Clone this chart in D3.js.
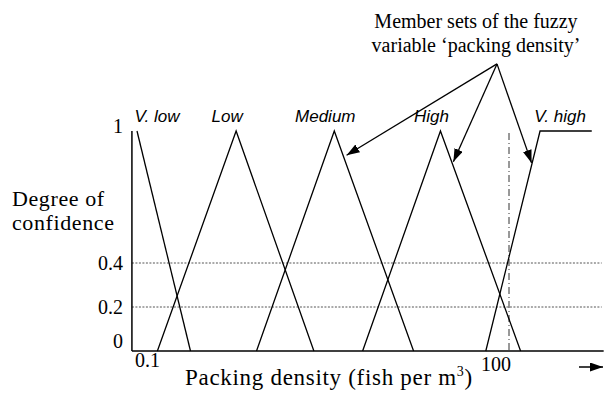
<!DOCTYPE html>
<html>
<head>
<meta charset="utf-8">
<script src="https://cdn.jsdelivr.net/npm/d3@7"></script>
<style>
  body { margin: 0; background: #fff; }
  svg { display: block; }
</style>
</head>
<body>
<div id="chart"></div>
<script>
// member sets of 'packing density': [density (fish per m3), degree of confidence]
var setNames = ["V. low", "Low", "Medium", "High", "V. high"];
var vLow   = [[0.1, 1], [0.27, 0]];
var low    = [[0.146, 0], [0.63, 1], [2.67, 0]];
var medium = [[0.92, 0], [3.9, 1], [17, 0]];
var high   = [[6.6, 0], [28, 1], [124, 0]];
var vHigh  = [[65, 0], [178, 1], [465, 1]];
var memberSets = [vLow, low, medium, high, vHigh];

var yTicks = [0, 0.2, 0.4, 1];
var yTickLabels = ["0", "0.2", "0.4", "1"];
var gridValues = [0.2, 0.4];
var xTicks = [0.1, 100];
var xTickLabels = ["0.1", "100"];
var xExtent = [0.091, 580];
var markerDensity = 100;

// annotation: one source, arrows pointing at Medium, High, V. high
var noteLines = ["Member sets of the fuzzy", "variable \u2018packing density\u2019"];
var arrowSource = [80, 1.305];
var arrowTargets = [[4.9, 0.89], [35.6, 0.86], [152, 0.855]];

var width = 604, height = 394;
var serif = "'Liberation Serif', 'Times New Roman', serif";
var sans = "'Liberation Sans', Arial, sans-serif";

var svg = d3.select("#chart").append("svg")
  .attr("width", width)
  .attr("height", height);

var defs = svg.append("defs");
defs.append("marker")
  .attr("id", "head")
  .attr("markerUnits", "userSpaceOnUse")
  .attr("markerWidth", 14).attr("markerHeight", 10)
  .attr("refX", 13).attr("refY", 4.5)
  .attr("orient", "auto")
  .append("path")
  .attr("d", "M0,0 L13,4.5 L0,9 Z")
  .attr("fill", "#000");

var x = d3.scaleLog().domain([0.1, 100]).range([137, 509]);
var y = d3.scaleLinear().domain([0, 1]).range([351, 131]);

// grid lines
svg.selectAll(".grid")
  .data(gridValues)
  .enter().append("line")
  .attr("class", "grid")
  .attr("x1", x(xExtent[0])).attr("x2", x(xExtent[1]) - 2)
  .attr("y1", function(d) { return y(d); })
  .attr("y2", function(d) { return y(d); })
  .attr("stroke", "#555")
  .attr("stroke-width", 1)
  .attr("stroke-dasharray", "2,1.5");

// dashed marker at 100
svg.append("line")
  .attr("x1", x(markerDensity)).attr("x2", x(markerDensity))
  .attr("y1", y(1) + 2).attr("y2", y(0))
  .attr("stroke", "#333")
  .attr("stroke-width", 1)
  .attr("stroke-dasharray", "7,3,1,3");

// axes
svg.append("line")
  .attr("x1", x(xExtent[0])).attr("x2", x(xExtent[0]))
  .attr("y1", y(1)).attr("y2", y(0))
  .attr("stroke", "#000").attr("stroke-width", 1.5);
svg.append("line")
  .attr("x1", x(xExtent[0])).attr("x2", x(xExtent[1]))
  .attr("y1", y(0)).attr("y2", y(0))
  .attr("stroke", "#000").attr("stroke-width", 1.5);

// member set lines
var line = d3.line()
  .x(function(d) { return x(d[0]); })
  .y(function(d) { return y(d[1]); });

svg.selectAll(".member")
  .data(memberSets)
  .enter().append("path")
  .attr("class", "member")
  .attr("d", line)
  .attr("fill", "none")
  .attr("stroke", "#000")
  .attr("stroke-width", 1.3);

// set names above the peaks
var labelDx = {"V. low": 20, "V. high": 20};
svg.selectAll(".setname")
  .data(setNames)
  .enter().append("text")
  .attr("class", "setname")
  .attr("x", function(d, i) {
    var top = memberSets[i].filter(function(p) { return p[1] === 1; })[0];
    return x(top[0]) + (labelDx[d] !== undefined ? labelDx[d] : -9);
  })
  .attr("y", 122)
  .attr("text-anchor", "middle")
  .style("font-family", sans)
  .style("font-style", "italic")
  .style("font-size", "17px")
  .text(function(d) { return d; });

// y tick labels
svg.selectAll(".ylabel")
  .data(yTicks)
  .enter().append("text")
  .attr("class", "ylabel")
  .attr("x", 123)
  .attr("y", function(d) {
    var shift = d === 0 ? -10 : (d === 1 ? -5 : 0);
    return y(d) + shift + 6.6;
  })
  .attr("text-anchor", "end")
  .style("font-family", serif)
  .style("font-size", "20px")
  .text(function(d, i) { return yTickLabels[i]; });

// x tick labels
svg.selectAll(".xlabel")
  .data(xTicks)
  .enter().append("text")
  .attr("class", "xlabel")
  .attr("x", function(d, i) { return i === 0 ? x(d) - 2 : x(d) + 2; })
  .attr("y", function(d, i) { return i === 0 ? 367 : 371; })
  .attr("text-anchor", function(d, i) { return i === 0 ? "start" : "end"; })
  .style("font-family", serif)
  .style("font-size", "20px")
  .text(function(d, i) { return xTickLabels[i]; });

// axis titles
var yTitle = svg.append("text")
  .style("font-family", serif)
  .style("font-size", "22px")
  .style("letter-spacing", "0.6px");
yTitle.append("tspan").attr("x", 12).attr("y", 206).text("Degree of");
yTitle.append("tspan").attr("x", 12).attr("y", 230).text("confidence");

var xTitle = svg.append("text")
  .attr("x", 185).attr("y", 385)
  .style("font-family", serif)
  .style("font-size", "23px")
  .style("letter-spacing", "0.7px");
xTitle.append("tspan").text("Packing density (fish per m");
xTitle.append("tspan").attr("dy", -9).style("font-size", "14px").text("3");
xTitle.append("tspan").attr("dy", 9).text(")");

// arrow at the end of the x axis
svg.append("line")
  .attr("x1", 579).attr("x2", 603)
  .attr("y1", 367).attr("y2", 367)
  .attr("stroke", "#000").attr("stroke-width", 1.5)
  .attr("marker-end", "url(#head)");

// annotation
svg.selectAll(".note")
  .data(noteLines)
  .enter().append("text")
  .attr("class", "note")
  .attr("x", 476)
  .attr("y", function(d, i) { return 28 + i * 24; })
  .attr("text-anchor", "middle")
  .style("font-family", serif)
  .style("font-size", "20px")
  .text(function(d) { return d; });

svg.selectAll(".pointer")
  .data(arrowTargets)
  .enter().append("line")
  .attr("class", "pointer")
  .attr("x1", x(arrowSource[0])).attr("y1", y(arrowSource[1]))
  .attr("x2", function(d) { return x(d[0]); })
  .attr("y2", function(d) { return y(d[1]); })
  .attr("stroke", "#000")
  .attr("stroke-width", 1.3)
  .attr("marker-end", "url(#head)");
</script>
</body>
</html>
